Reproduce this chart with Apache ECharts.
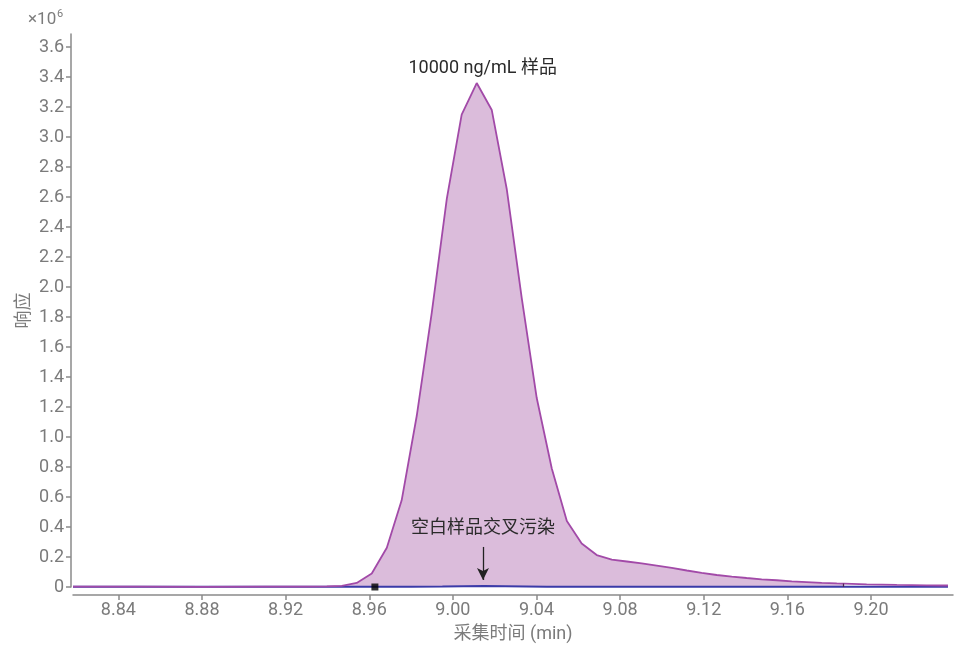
<!DOCTYPE html>
<html>
<head>
<meta charset="utf-8">
<script src="https://cdn.jsdelivr.net/npm/echarts@6/dist/echarts.min.js"></script>
<style>
  html, body { margin: 0; padding: 0; background: #ffffff; }
  #chart { width: 962px; height: 649px; }
</style>
</head>
<body>
<div id="chart"></div>
<script>
// Retention time (min) of the 10000 ng/mL sample trace
const sampleTimes = [
  8.8183, 8.8500, 8.8800, 8.9100, 8.9300, 8.9397, 8.9469, 8.9540, 8.9612, 8.9684,
  8.9755, 8.9827, 8.9899, 8.9971, 9.0042, 9.0114, 9.0186, 9.0258, 9.0329, 9.0401,
  9.0473, 9.0545, 9.0616, 9.0688, 9.0760, 9.0832, 9.0903, 9.0975, 9.1047, 9.1119,
  9.1190, 9.1262, 9.1334, 9.1405, 9.1477, 9.1549, 9.1621, 9.1692, 9.1764, 9.1836,
  9.1908, 9.1979, 9.2051, 9.2123, 9.2195, 9.2266, 9.2338, 9.2368
];
// Response (x10^6) of the sample trace
const sampleResponse = [
  0.002, 0.002, 0.001, 0.002, 0.002, 0.004, 0.008, 0.027, 0.090, 0.262,
  0.578, 1.140, 1.830, 2.590, 3.150, 3.360, 3.180, 2.650, 1.930, 1.260,
  0.790, 0.440, 0.290, 0.213, 0.183, 0.170, 0.157, 0.142, 0.127, 0.110,
  0.094, 0.080, 0.069, 0.060, 0.051, 0.045, 0.038, 0.033, 0.028, 0.024,
  0.021, 0.018, 0.016, 0.014, 0.013, 0.011, 0.010, 0.010
];

// Blank injection trace (carry-over check)
const blankTimes    = [8.8183, 8.9000, 8.9800, 8.9950, 9.0050, 9.0150, 9.0250, 9.0350, 9.0450, 9.1000, 9.2368];
const blankResponse = [0.001, 0.001, 0.001, 0.003, 0.005, 0.006, 0.005, 0.004, 0.002, 0.001, 0.001];

// Peak integration limits: [time, response]
const integrationStart = [8.9627, 0];
const integrationEnd   = [9.1865, 0.023];

// Arrow pointing at the blank trace
const arrowTime = 9.0144;
const arrowFrom = 0.267;
const arrowTo   = 0.047;
const blankLabelValue = 0.387;

// Axis ticks
const xTickValues = [8.84, 8.88, 8.92, 8.96, 9.00, 9.04, 9.08, 9.12, 9.16, 9.20];
const yTickValues = [0, 0.2, 0.4, 0.6, 0.8, 1.0, 1.2, 1.4, 1.6, 1.8, 2.0, 2.2, 2.4, 2.6, 2.8, 3.0, 3.2, 3.4, 3.6];

const sampleLabel = '10000 ng/mL 样品';
const blankLabel = '空白样品交叉污染';

const samplePairs = sampleTimes.map((t, i) => [t, sampleResponse[i]]);
const blankPairs = blankTimes.map((t, i) => [t, blankResponse[i]]);
// Integrated area: trace up to the integration end marker
const areaPairs = samplePairs.filter(p => p[0] <= integrationEnd[0]).concat([integrationEnd]);

let peakIdx = 0;
sampleResponse.forEach((v, i) => { if (v > sampleResponse[peakIdx]) peakIdx = i; });

const axisGray = '#8a8a8a';
const labelGray = '#7b7b7b';
const fontFamily = 'Roboto, "Noto Sans CJK SC", sans-serif';

const chart = echarts.init(document.getElementById('chart'), null, { renderer: 'canvas' });

chart.setOption({
  animation: false,
  backgroundColor: '#ffffff',
  textStyle: { fontFamily: fontFamily },
  grid: { left: 73, right: 9, top: 34, bottom: 62 },
  graphic: [
    {
      type: 'text',
      left: 28,
      top: 11,
      style: { text: '×10', fontSize: 17, fontFamily: 'Roboto', fill: labelGray }
    },
    {
      type: 'text',
      left: 57,
      top: 9,
      style: { text: '6', fontSize: 11, fontFamily: 'Roboto', fill: labelGray }
    }
  ],
  xAxis: {
    type: 'value',
    min: 8.8183,
    max: 9.2392,
    offset: 8,
    name: '采集时间 (min)',
    nameLocation: 'middle',
    nameGap: 31,
    nameMoveOverlap: false,
    nameTextStyle: { fontSize: 18, color: labelGray, fontFamily: fontFamily },
    axisLine: { show: true, onZero: false, lineStyle: { color: axisGray, width: 1.5 } },
    axisTick: { show: true, length: 5, customValues: xTickValues, lineStyle: { color: axisGray, width: 1.5 } },
    axisLabel: {
      customValues: xTickValues,
      formatter: v => v.toFixed(2),
      fontSize: 18,
      color: labelGray,
      margin: 7
    },
    splitLine: { show: false }
  },
  yAxis: {
    type: 'value',
    min: 0,
    max: 3.687,
    offset: 2,
    name: '响应',
    nameLocation: 'middle',
    nameRotate: 90,
    nameGap: 38,
    nameMoveOverlap: false,
    nameTextStyle: { fontSize: 18, color: labelGray, fontFamily: fontFamily },
    axisLine: { show: true, onZero: false, lineStyle: { color: axisGray, width: 1.5 } },
    axisTick: { show: true, length: 5, customValues: yTickValues, lineStyle: { color: axisGray, width: 1.5 } },
    axisLabel: {
      customValues: yTickValues,
      formatter: v => (v === 0 ? '0' : v.toFixed(1)),
      fontSize: 18,
      color: labelGray,
      margin: 7
    },
    splitLine: { show: false }
  },
  series: [
    {
      name: 'area',
      type: 'line',
      data: areaPairs,
      showSymbol: false,
      symbol: 'none',
      lineStyle: { width: 0 },
      areaStyle: { color: '#dbbcdb', opacity: 1 },
      z: 1,
      silent: true
    },
    {
      name: 'blank',
      type: 'line',
      data: blankPairs,
      symbol: 'none',
      lineStyle: { color: '#3b3ba8', width: 2 },
      z: 2,
      silent: true,
      markLine: {
        silent: true,
        symbol: ['none', 'arrow'],
        symbolSize: [9, 12],
        lineStyle: { color: '#222222', width: 1.3, type: 'solid' },
        label: { show: false },
        data: [[{ coord: [arrowTime, arrowFrom] }, { coord: [arrowTime, arrowTo] }]]
      },
      markPoint: {
        silent: true,
        symbol: 'rect',
        symbolSize: 0,
        label: {
          show: true,
          formatter: blankLabel,
          fontSize: 18,
          color: '#2a2a2a',
          fontFamily: fontFamily,
          position: 'inside'
        },
        data: [{ coord: [arrowTime, blankLabelValue] }]
      }
    },
    {
      name: 'sample',
      type: 'line',
      data: samplePairs,
      symbol: 'none',
      lineStyle: { color: '#a24aa8', width: 1.8 },
      z: 3,
      silent: true,
      markPoint: {
        silent: true,
        symbol: 'rect',
        symbolSize: 0,
        label: {
          show: true,
          formatter: sampleLabel,
          fontSize: 18,
          color: '#2a2a2a',
          fontFamily: fontFamily,
          position: 'top',
          distance: 6,
          offset: [6, 0]
        },
        data: [{ coord: samplePairs[peakIdx] }]
      },
      markLine: {
        silent: true,
        symbol: 'none',
        lineStyle: { color: '#4a2550', width: 1.3, type: 'solid' },
        label: { show: false },
        data: [[{ coord: [integrationEnd[0], 0] }, { coord: integrationEnd }]]
      }
    },
    {
      name: 'start',
      type: 'scatter',
      data: [integrationStart],
      symbol: 'rect',
      symbolSize: 7,
      itemStyle: { color: '#000000' },
      z: 5,
      silent: true
    }
  ]
});
</script>
</body>
</html>
